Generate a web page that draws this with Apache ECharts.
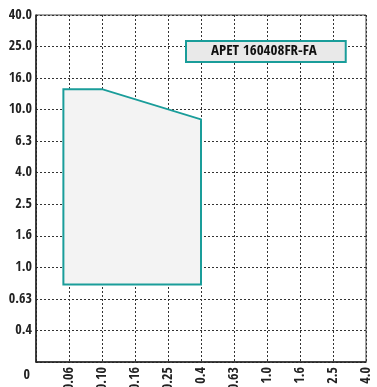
<!DOCTYPE html>
<html><head><meta charset="utf-8">
<script src="https://cdn.jsdelivr.net/npm/echarts@6/dist/echarts.min.js"></script>
<style>html,body{margin:0;padding:0;background:#fff}#c{width:377px;height:387px}</style>
</head><body><div id="c"></div>
<script>
var xLabels = ['0','0.06','0.10','0.16','0.25','0.4','0.63','1.0','1.6','2.5','4.0'];
var yLabels = ['0','0.4','0.63','1.0','1.6','2.5','4.0','6.3','10.0','16.0','25.0','40.0'];
var seriesName = 'APET 160408FR-FA';
// polygon vertices in axis-index units
var polyX = [0.83, 0.83, 2, 5, 5];
var polyY = [2.46, 8.65, 8.65, 7.69, 2.46];

var FONT = '"Open Sans Condensed","Roboto Condensed",sans-serif';
var teal = '#1a9d9a';
var data = polyX.map(function(x,i){return [x, polyY[i]];});
var chart = echarts.init(document.getElementById('c'));
chart.setOption({
  animation:false,
  grid:{left:36,right:11,top:15,bottom:25,outerBoundsMode:'none',show:true,borderColor:'#444',borderWidth:1},
  legend:{
    data:[{name:seriesName,icon:'none'}],
    left:186, top:41, itemWidth:0, itemHeight:0, itemGap:0,
    backgroundColor:'#e9e9e9', borderColor:teal, borderWidth:2, borderRadius:0,
    padding:[3,29,3,20],
    textStyle:{fontFamily:FONT,fontWeight:'bold',fontSize:15,color:'#111'}
  },
  xAxis:{type:'value',min:0,max:10,interval:1,
    axisLine:{show:true,lineStyle:{color:'#222',width:1.5}},
    axisTick:{show:false},
    splitLine:{show:true,lineStyle:{type:[2,2],color:'#333',width:1}},
    axisLabel:{rotate:90,margin:5,fontFamily:FONT,fontSize:14,fontWeight:600,color:'#222',
      formatter:function(v){return v===0?'':xLabels[v];}}
  },
  yAxis:{type:'value',min:0,max:11,interval:1,
    axisLine:{show:true,lineStyle:{color:'#222',width:1.5}},
    axisTick:{show:false},
    splitLine:{show:true,lineStyle:{type:[2,2],color:'#333',width:1}},
    axisLabel:{margin:4,fontFamily:FONT,fontSize:14,fontWeight:600,color:'#222',
      formatter:function(v){return v===0?'{z|0}':yLabels[v];},
      rich:{z:{padding:[26,2,0,0],fontFamily:FONT,fontSize:14,fontWeight:600,color:'#222'}}}
  },
  series:[{
    name:seriesName,type:'custom',
    renderItem:function(params,api){
      var pts = data.map(function(d){return api.coord(d);});
      return {type:'polygon',shape:{points:pts},
        style:{fill:'#f3f3f3',stroke:teal,lineWidth:2}};
    },
    data:[[0,0]],
    itemStyle:{color:teal}
  }]
});
</script></body></html>
